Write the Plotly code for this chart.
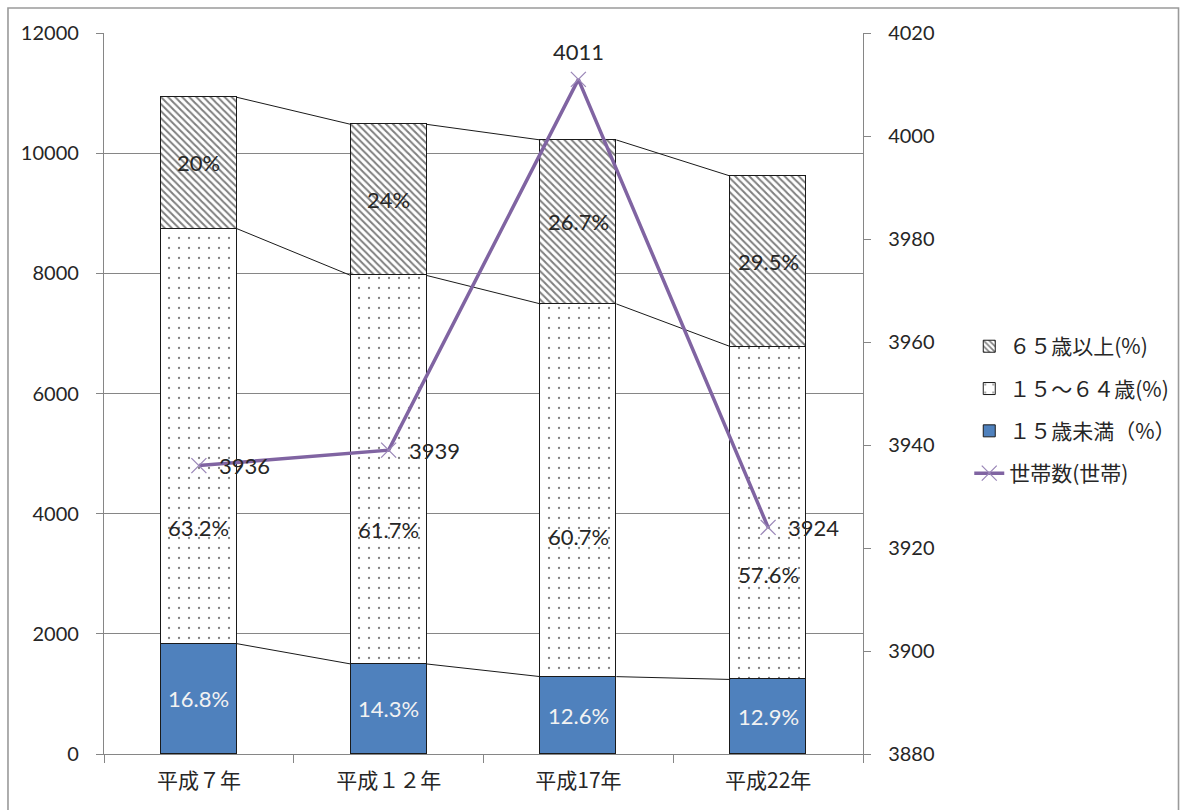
import plotly.graph_objects as go

# Population structure by year (bars) and number of households (line)
years = ["平成７年", "平成１２年", "平成17年", "平成22年"]
total_pop = [10930, 10480, 10220, 9620]
pct_under15 = [16.8, 14.3, 12.6, 12.9]
pct_15_64 = [63.2, 61.7, 60.7, 57.6]
pct_65over = [20, 24, 26.7, 29.5]
households = [3936, 3939, 4011, 3924]

names = ["１５歳未満（%）", "１５～６４歳(%)", "６５歳以上(%)", "世帯数(世帯)"]

x = list(range(len(years)))
BAR_W = 0.4

# Segment heights derived from the stated percentages
seg_under15 = [t * p / 100 for t, p in zip(total_pop, pct_under15)]
seg_15_64 = [t * p / 100 for t, p in zip(total_pop, pct_15_64)]
seg_65over = [t * p / 100 for t, p in zip(total_pop, pct_65over)]
cum1 = seg_under15
cum2 = [a + b for a, b in zip(cum1, seg_15_64)]
cum3 = [a + b for a, b in zip(cum2, seg_65over)]

NUM_FONT = "Lato, 'Noto Sans CJK JP', sans-serif"
JP_FONT = "'Noto Sans CJK JP', sans-serif"
TXT = "#262626"
AXIS = "#868686"

fig = go.Figure()

fig.add_trace(go.Bar(
    x=x, y=seg_under15, width=BAR_W, name=names[0],
    marker=dict(color="#4F81BD", line=dict(color="#1a1a1a", width=1)),
    legendgroup="g3", legendrank=3, hoverinfo="skip",
))
fig.add_trace(go.Bar(
    x=x, y=seg_15_64, width=BAR_W, name=names[1],
    marker=dict(color="white", line=dict(color="#1a1a1a", width=1),
                pattern=dict(shape=".", fgcolor="#000000", bgcolor="#ffffff",
                             size=10, solidity=0.04)),
    legendgroup="g2", legendrank=2, hoverinfo="skip",
))
fig.add_trace(go.Bar(
    x=x, y=seg_65over, width=BAR_W, name=names[2],
    marker=dict(color="white", line=dict(color="#1a1a1a", width=1),
                pattern=dict(shape="\\", fgcolor="#000000", bgcolor="#ffffff",
                             size=5, solidity=0.4)),
    legendgroup="g1", legendrank=1, hoverinfo="skip",
))

# Series lines joining the segment boundaries of neighbouring bars
for level in (cum1, cum2, cum3):
    sx, sy = [], []
    for i in range(len(x) - 1):
        sx += [x[i] + BAR_W / 2, x[i + 1] - BAR_W / 2, None]
        sy += [level[i], level[i + 1], None]
    fig.add_trace(go.Scatter(
        x=sx, y=sy, mode="lines", line=dict(color="#1a1a1a", width=1),
        showlegend=False, hoverinfo="skip",
    ))

# Households line on the secondary axis
fig.add_trace(go.Scatter(
    x=x, y=households, yaxis="y2", name=names[3],
    mode="lines+markers",
    line=dict(color="#8064A2", width=3.5),
    marker=dict(symbol="x-thin", size=15, color="#8064A2",
                line=dict(color="#9b87b8", width=1.3)),
    legendgroup="g4", legendrank=4, hoverinfo="skip",
))

annotations = []

# Household value labels
for i in x:
    if i == 2:
        pos = dict(xanchor="center", yanchor="middle", xshift=0, yshift=28)
    else:
        pos = dict(xanchor="left", yanchor="middle", xshift=18, yshift=0)
    annotations.append(dict(x=i, y=households[i], xref="x", yref="y2",
                            text=str(households[i]), showarrow=False,
                            font=dict(family=NUM_FONT, size=22, color=TXT), **pos))

# Percentage labels
for i in x:
    annotations.append(dict(x=i, y=cum1[i] / 2, text=f"{pct_under15[i]}%",
                            showarrow=False, xref="x", yref="y",
                            font=dict(family=NUM_FONT, size=22, color="#f2f2f2")))
    annotations.append(dict(x=i, y=(cum2[i] + cum3[i]) / 2, text=f"{pct_65over[i]}%",
                            showarrow=False, xref="x", yref="y",
                            font=dict(family=NUM_FONT, size=22, color=TXT)))
mid_label_y = [3767, 3734, 3617, 2985]
for i in x:
    annotations.append(dict(x=i, y=mid_label_y[i], text=f"{pct_15_64[i]}%",
                            showarrow=False, xref="x", yref="y",
                            font=dict(family=NUM_FONT, size=22, color=TXT)))

fig.update_layout(
    width=1181, height=810,
    margin=dict(l=104, r=318, t=33, b=56, autoexpand=False),
    paper_bgcolor="white", plot_bgcolor="white",
    barmode="stack", bargap=0,
    showlegend=True,
    legend=dict(x=1.14, xanchor="left", y=0.477, yanchor="middle",
                traceorder="grouped", tracegroupgap=12,
                font=dict(family=JP_FONT, size=21, color=TXT),
                bgcolor="rgba(0,0,0,0)"),
    xaxis=dict(range=[-0.5, 3.5], tickmode="array", tickvals=x, ticktext=years,
               ticks="", showline=True, linecolor=AXIS, linewidth=1.3,
               showgrid=False, zeroline=False,
               tickfont=dict(family=JP_FONT, size=21, color=TXT),
               ticklabelstandoff=8,
               minor=dict(tickvals=[-0.5, 0.5, 1.5, 2.5, 3.5], ticks="outside",
                          ticklen=8, tickcolor=AXIS, tickwidth=1.3, showgrid=False)),
    yaxis=dict(range=[0, 12000], dtick=2000, tickformat="d", showline=True,
               linecolor=AXIS, linewidth=1.3, showgrid=True, gridcolor=AXIS,
               gridwidth=1.2, zeroline=False, ticks="outside", ticklen=7,
               tickcolor=AXIS, tickwidth=1.3, ticklabelstandoff=13,
               tickfont=dict(family=NUM_FONT, size=20, color=TXT)),
    yaxis2=dict(range=[3880, 4020], dtick=20, overlaying="y", side="right",
                showline=True, linecolor=AXIS, linewidth=1.3, showgrid=False,
                zeroline=False, ticks="outside", ticklen=7, tickcolor=AXIS,
                tickwidth=1.3, ticklabelstandoff=13,
                tickfont=dict(family=NUM_FONT, size=20, color=TXT)),
    annotations=annotations,
    shapes=[dict(type="rect", xref="paper", yref="paper",
                 x0=-0.1265, x1=1.4157, y0=-0.09, y1=1.0347,
                 line=dict(color="#9a9a9a", width=1.6), layer="below")],
)

fig.write_html("out.html")
